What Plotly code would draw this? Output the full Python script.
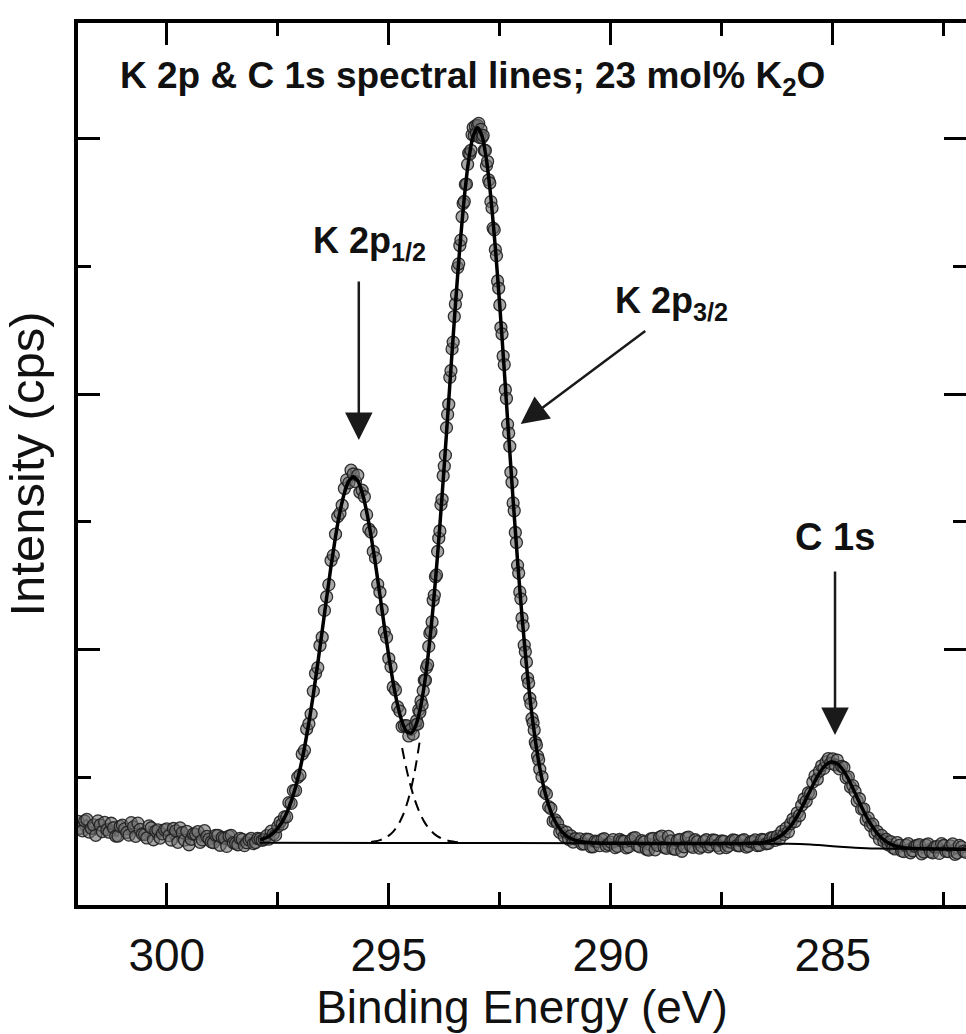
import plotly.graph_objects as go

# ---------------- data: binding energy (eV) / intensity (cps) ----------------
be_a = [302.0, 301.9, 301.8, 301.7, 301.6, 301.5, 301.4, 301.3, 301.2, 301.1,
        301.0, 300.9, 300.8, 300.7, 300.6, 300.5, 300.4, 300.3, 300.2, 300.1,
        300.0, 299.9, 299.8, 299.7, 299.6, 299.5, 299.4, 299.3, 299.2, 299.1,
        299.0, 298.9, 298.8, 298.7, 298.6, 298.5, 298.4, 298.3, 298.2, 298.1,
        298.0, 297.9, 297.8]
cps_a = [655, 581, 670, 601, 546, 627, 647, 570, 605, 540,
         625, 568, 645, 538, 592, 551, 620, 511, 588, 557,
         596, 509, 581, 604, 508, 472, 556, 575, 510, 537,
         494, 546, 468, 524, 540, 488, 472, 514, 488, 521,
         489, 518, 515]
be_a2 = [301.95, 301.85, 301.75, 301.65, 301.55, 301.45, 301.35, 301.25, 301.15, 301.05,
         300.95, 300.85, 300.75, 300.65, 300.55, 300.45, 300.35, 300.25, 300.15, 300.05,
         299.95, 299.85, 299.75, 299.65, 299.55, 299.45, 299.35, 299.25, 299.15, 299.05,
         298.95, 298.85, 298.75, 298.65, 298.55, 298.45, 298.35, 298.25, 298.15, 298.05,
         297.95, 297.85]
cps_a2 = [601, 658, 571, 627, 659, 575, 590, 640, 540, 616,
          596, 547, 612, 641, 556, 525, 605, 579, 524, 589,
          543, 599, 491, 567, 577, 515, 555, 491, 582, 516,
          488, 546, 529, 459, 545, 483, 522, 465, 510, 481,
          521, 507]

be_b = [297.75, 297.70, 297.65, 297.60, 297.55, 297.50, 297.45, 297.40, 297.35, 297.30,
        297.25, 297.20, 297.15, 297.10, 297.05, 297.00, 296.95, 296.90, 296.85, 296.80,
        296.75, 296.70, 296.65, 296.60, 296.55, 296.50, 296.45, 296.40, 296.35, 296.30,
        296.25, 296.20, 296.15, 296.10, 296.05, 296.00, 295.95, 295.90, 295.85, 295.80,
        295.75, 295.70, 295.65, 295.60, 295.55, 295.50, 295.45, 295.40, 295.35, 295.30,
        295.25, 295.20, 295.15, 295.10, 295.05, 295.00, 294.95, 294.90, 294.85, 294.80,
        294.75, 294.70, 294.65, 294.60, 294.55, 294.50, 294.45, 294.40]
cps_b = [543, 516, 578, 555, 547, 614, 650, 634, 690, 691,
         802, 796, 896, 897, 1000, 1018, 1182, 1211, 1378, 1420,
         1495, 1675, 1813, 1859, 2032, 2097, 2307, 2414, 2509, 2698,
         2738, 2904, 3042, 3067, 3131, 3262, 3329, 3306, 3405, 3375,
         3316, 3366, 3232, 3248, 3197, 3057, 2944, 2921, 2769, 2718,
         2511, 2449, 2314, 2139, 2096, 1930, 1866, 1707, 1684, 1551,
         1518, 1398, 1404, 1404, 1324, 1375, 1338, 1411]

be_c = [294.375, 294.350, 294.325, 294.300, 294.275, 294.250, 294.225, 294.200, 294.175, 294.150,
        294.125, 294.100, 294.075, 294.050, 294.025, 294.000, 293.975, 293.950, 293.925, 293.900,
        293.875, 293.850, 293.825, 293.800, 293.775, 293.750, 293.725, 293.700, 293.675, 293.650,
        293.625, 293.600, 293.575, 293.550, 293.525, 293.500, 293.475, 293.450, 293.425, 293.400,
        293.375, 293.350, 293.325, 293.300, 293.275, 293.250, 293.225, 293.200, 293.175, 293.150,
        293.125, 293.100, 293.075, 293.050, 293.025, 293.000, 292.975, 292.950, 292.925, 292.900,
        292.875, 292.850, 292.825, 292.800, 292.775, 292.750, 292.725, 292.700, 292.675, 292.650,
        292.625, 292.600, 292.575, 292.550, 292.525, 292.500, 292.475, 292.450, 292.425, 292.400,
        292.375, 292.350, 292.325, 292.300, 292.275, 292.250, 292.225, 292.200, 292.175, 292.150,
        292.125, 292.100, 292.075, 292.050, 292.025, 292.000, 291.975, 291.950, 291.925, 291.900,
        291.875, 291.850, 291.825, 291.800, 291.775, 291.750, 291.725, 291.700, 291.675, 291.650,
        291.625, 291.600]
cps_c = [1443, 1417, 1528, 1510, 1598, 1567, 1678, 1761, 1760, 1859,
         1882, 2025, 2127, 2143, 2217, 2386, 2427, 2571, 2585, 2769,
         2873, 2929, 3135, 3177, 3362, 3437, 3523, 3738, 3842, 3921,
         4132, 4184, 4355, 4408, 4608, 4707, 4777, 4991, 5021, 5165,
         5207, 5390, 5493, 5509, 5643, 5646, 5800, 5887, 5880, 5910,
         6033, 6088, 6026, 6101, 6043, 6105, 6121, 6010, 6074, 6010,
         6026, 5911, 5909, 5790, 5822, 5678, 5654, 5508, 5459, 5301,
         5287, 5132, 5085, 4887, 4830, 4699, 4522, 4472, 4299, 4232,
         4035, 3967, 3764, 3696, 3593, 3389, 3310, 3149, 3087, 2917,
         2839, 2660, 2600, 2452, 2398, 2247, 2187, 2035, 1983, 1903,
         1777, 1738, 1619, 1577, 1461, 1427, 1370, 1274, 1253, 1166,
         1138, 1063]

be_d = [291.55, 291.50, 291.45, 291.40, 291.35, 291.30, 291.25, 291.20, 291.15, 291.10,
        291.05, 291.00, 290.95, 290.90, 290.85, 290.80,
        290.7, 290.6, 290.5, 290.4, 290.3, 290.2, 290.1, 290.0, 289.9, 289.8,
        289.7, 289.6, 289.5, 289.4, 289.3, 289.2, 289.1, 289.0, 288.9, 288.8,
        288.7, 288.6, 288.5, 288.4, 288.3, 288.2, 288.1, 288.0, 287.9, 287.8,
        287.7, 287.6, 287.5, 287.4, 287.3, 287.2, 287.1, 287.0, 286.9, 286.8,
        286.7, 286.6, 286.5, 286.4, 286.3]
cps_d = [1004, 886, 870, 770, 756, 658, 666, 641, 569, 584,
         538, 570, 515, 542, 493, 519,
         518, 478, 514, 456, 497, 512, 462, 492, 449, 513,
         498, 455, 523, 465, 504, 437, 517, 432, 530, 452,
         537, 441, 506, 421, 526, 461, 511, 446, 499, 456,
         509, 466, 501, 449, 493, 506, 463, 511, 461, 499,
         465, 513, 479, 525, 506]
be_d2 = [290.65, 290.55, 290.45, 290.35, 290.25, 290.15, 290.05,
         289.95, 289.85, 289.75, 289.65, 289.55, 289.45, 289.35, 289.25, 289.15, 289.05,
         288.95, 288.85, 288.75, 288.65, 288.55, 288.45, 288.35, 288.25, 288.15, 288.05,
         287.95, 287.85, 287.75, 287.65, 287.55, 287.45, 287.35, 287.25, 287.15, 287.05,
         286.95, 286.85, 286.75, 286.65, 286.55, 286.45, 286.35]
cps_d2 = [477, 516, 456, 500, 465, 519, 474,
          512, 459, 501, 448, 505, 528, 455, 494, 430, 522,
          467, 540, 444, 502, 436, 513, 456, 531, 451, 496,
          459, 511, 469, 506, 446, 499, 461, 509, 466, 503,
          454, 495, 510, 468, 510, 483, 527]

be_e = [286.25, 286.20, 286.15, 286.10, 286.05, 286.00, 285.95, 285.90, 285.85, 285.80,
        285.75, 285.70, 285.65, 285.60, 285.55, 285.50, 285.45, 285.40, 285.35, 285.30,
        285.25, 285.20, 285.15, 285.10, 285.05, 285.00, 284.95, 284.90, 284.85, 284.80,
        284.75, 284.70, 284.65, 284.60, 284.55, 284.50, 284.45, 284.40, 284.35, 284.30,
        284.25, 284.20, 284.15, 284.10, 284.05, 284.00, 283.95, 283.90, 283.85, 283.80,
        283.75]
cps_e = [540, 516, 576, 553, 601, 573, 637, 673, 654, 722,
         701, 781, 830, 813, 879, 873, 963, 1013, 985, 1049,
         1090, 1070, 1121, 1147, 1109, 1145, 1098, 1135, 1066, 1086,
         1077, 997, 1004, 924, 935, 890, 815, 832, 751, 752,
         666, 682, 622, 633, 563, 576, 514, 545, 498, 515,
         471]

be_f = [283.7, 283.6, 283.5, 283.4, 283.3, 283.2, 283.1, 283.0, 282.9, 282.8,
        282.7, 282.6, 282.5, 282.4, 282.3, 282.2, 282.1, 282.0]
cps_f = [497, 439, 467, 418, 480, 425, 467, 401, 470, 417,
         454, 404, 466, 418, 478, 407, 455, 412]
be_f2 = [283.65, 283.55, 283.45, 283.35, 283.25, 283.15, 283.05, 282.95, 282.85, 282.75,
         282.65, 282.55, 282.45, 282.35, 282.25, 282.15, 282.05]
cps_f2 = [450, 489, 424, 468, 409, 460, 473, 415, 478, 409,
          459, 480, 420, 463, 397, 467, 422]

# envelope fit
be_fit = [297.9, 297.8, 297.7, 297.6, 297.5, 297.4, 297.3, 297.2, 297.1, 297.0,
          296.9, 296.8, 296.7, 296.6, 296.5, 296.4, 296.3, 296.2, 296.1, 296.0,
          295.9, 295.8, 295.7, 295.6, 295.5, 295.4, 295.3, 295.2, 295.1, 295.0,
          294.9, 294.8, 294.7, 294.6, 294.5, 294.4, 294.3, 294.2, 294.1, 294.0,
          293.9, 293.8, 293.7, 293.6, 293.5, 293.4, 293.3, 293.2, 293.1, 293.0,
          292.9, 292.8, 292.7, 292.6, 292.5, 292.4, 292.3, 292.2, 292.1, 292.0,
          291.9, 291.8, 291.7, 291.6, 291.5, 291.4, 291.3, 291.2, 291.1, 291.0,
          290.9, 290.8, 290.7, 290.6, 290.5, 290.4, 290.3, 290.2, 290.1, 290.0,
          289.9, 289.8, 289.7, 289.6, 289.5, 289.4, 289.3, 289.2, 289.1, 289.0,
          288.9, 288.8, 288.7, 288.6, 288.5, 288.4, 288.3, 288.2, 288.1, 288.0,
          287.9, 287.8, 287.7, 287.6, 287.5, 287.4, 287.3, 287.2, 287.1, 287.0,
          286.9, 286.8, 286.7, 286.6, 286.5, 286.4, 286.3, 286.2, 286.1, 286.0,
          285.9, 285.8, 285.7, 285.6, 285.5, 285.4, 285.3, 285.2, 285.1, 285.0,
          284.9, 284.8, 284.7, 284.6, 284.5, 284.4, 284.3, 284.2, 284.1, 284.0,
          283.9, 283.8, 283.7, 283.6, 283.5, 283.4, 283.3, 283.2, 283.1, 283.0,
          282.9, 282.8, 282.7, 282.6, 282.5, 282.4, 282.3, 282.2, 282.1, 282.0]
cps_fit = [509, 521, 538, 565, 602, 652, 721, 810, 923, 1063,
           1231, 1428, 1649, 1892, 2147, 2406, 2656, 2884, 3079, 3227,
           3321, 3353, 3322, 3230, 3082, 2891, 2668, 2427, 2181, 1948,
           1737, 1563, 1433, 1359, 1345, 1399, 1525, 1723, 1997, 2341,
           2747, 3205, 3698, 4204, 4697, 5151, 5539, 5837, 6023, 6087,
           6022, 5835, 5536, 5146, 4689, 4190, 3676, 3171, 2695, 2262,
           1881, 1557, 1290, 1075, 908, 782, 688, 621, 574, 542,
           520, 507, 498, 493, 489, 486, 485, 484, 484, 484,
           484, 483, 483, 483, 483, 483, 482, 482, 482, 482,
           482, 482, 482, 481, 481, 481, 481, 481, 481, 481,
           481, 481, 481, 481, 481, 481, 481, 481, 481, 481,
           483, 484, 485, 488, 494, 503, 516, 536, 563, 598,
           643, 697, 761, 831, 903, 973, 1034, 1082, 1112, 1120,
           1107, 1071, 1019, 952, 878, 802, 730, 664, 608, 561,
           525, 497, 477, 464, 455, 448, 445, 443, 442, 441,
           440, 439, 439, 439, 438, 438, 438, 437, 437, 437]

# fitted components (only the parts below the envelope)
be_k2p12 = [294.7, 294.6, 294.5, 294.4, 294.3, 294.2, 294.1, 294.0, 293.9, 293.8,
            293.7, 293.6, 293.5, 293.4]
cps_k2p12 = [1230, 1062, 922, 809, 720, 651, 601, 564, 537, 519,
             507, 499, 494, 491]
be_k2p32 = [295.4, 295.3, 295.2, 295.1, 295.0, 294.9, 294.8, 294.7, 294.6, 294.5,
            294.4, 294.3]
cps_k2p32 = [494, 499, 508, 521, 543, 575, 622, 689, 783, 909,
             1076, 1291]

# Shirley background
be_bg = [297.9, 295.0, 290.0, 286.5, 286.0, 285.75, 285.5, 285.25, 285.0, 284.75,
         284.5, 284.25, 284.0, 283.5, 283.0, 282.0]
cps_bg = [488, 486, 484, 480, 479, 477, 473, 467, 460, 454,
          448, 444, 442, 441, 440, 437]

x_major = [300, 295, 290, 285]
x_minor = [297.5, 292.5, 287.5, 282.5]
y_major = [2000, 4000, 6000]
y_minor = [1000, 3000, 5000]

pairs = sorted(zip(be_a + be_a2 + be_b + be_c + be_d + be_d2 + be_e + be_f + be_f2,
                   cps_a + cps_a2 + cps_b + cps_c + cps_d + cps_d2 + cps_e + cps_f + cps_f2),
               reverse=True)
be_data = [p[0] for p in pairs]
cps_data = [p[1] for p in pairs]

FONT = "Liberation Sans, Arial, Helvetica, sans-serif"
TXT = "#111111"

fig = go.Figure()
for xs, ys in [(be_k2p12, cps_k2p12), (be_k2p32, cps_k2p32)]:
    fig.add_trace(go.Scatter(x=xs, y=ys, mode="lines",
                             line=dict(color="black", width=2, dash="11px,7px", shape="spline")))
fig.add_trace(go.Scatter(x=be_data, y=cps_data, mode="lines+markers",
                         line=dict(color="rgba(15,15,15,0.9)", width=1.4),
                         marker=dict(size=12, color="rgba(110,110,110,0.6)",
                                     line=dict(color="rgba(30,30,30,0.9)", width=1.3))))
fig.add_trace(go.Scatter(x=be_bg, y=cps_bg, mode="lines",
                         line=dict(color="black", width=2, shape="spline")))
fig.add_trace(go.Scatter(x=be_fit, y=cps_fit, mode="lines",
                         line=dict(color="black", width=3.5, shape="spline", smoothing=0.6)))
fig.add_trace(go.Scatter(x=[None], y=[None], yaxis="y2", mode="lines", hoverinfo="skip"))

yr = [0, 6907]
AX = 46
fig.update_layout(
    width=966, height=1034,
    margin=dict(l=78, r=0, t=23, b=129),
    paper_bgcolor="white", plot_bgcolor="white", showlegend=False,
    xaxis=dict(range=[302, 282], tickmode="array", tickvals=x_major,
               ticktext=[str(v) for v in x_major],
               ticks="inside", ticklen=22, tickwidth=3, tickcolor="black",
               minor=dict(tickmode="array", tickvals=x_minor, ticks="inside",
                          ticklen=13, tickwidth=3, tickcolor="black"),
               showline=True, linewidth=3.5, linecolor="black", mirror="ticks",
               showgrid=False, zeroline=False,
               tickfont=dict(family=FONT, size=AX, color=TXT),
               ticklabelstandoff=7,
               title=dict(text="Binding Energy (eV)", standoff=2,
                          font=dict(family=FONT, size=AX, color=TXT))),
    yaxis=dict(range=yr, tickmode="array", tickvals=y_major,
               ticks="inside", ticklen=22, tickwidth=3, tickcolor="black",
               minor=dict(tickmode="array", tickvals=y_minor, ticks="inside",
                          ticklen=13, tickwidth=3, tickcolor="black"),
               showline=True, linewidth=3.5, linecolor="black", mirror=False,
               showticklabels=False, showgrid=False, zeroline=False,
               title=dict(text="Intensity (cps)", standoff=20,
                          font=dict(family=FONT, size=49, color=TXT))),
    yaxis2=dict(range=yr, overlaying="y", side="right", anchor="x",
                tickmode="array", tickvals=y_major,
                ticks="inside", ticklen=22, tickwidth=3, tickcolor="black",
                minor=dict(tickmode="array", tickvals=y_minor, ticks="inside",
                           ticklen=13, tickwidth=3, tickcolor="black"),
                showline=False, showticklabels=False, showgrid=False, zeroline=False),
)

ann_font = dict(family=FONT, size=36, color=TXT)
annotations = [
    dict(x=0.045, y=0.9376, xref="paper", yref="paper", xanchor="left", yanchor="middle",
         text="<b>K 2p &amp; C 1s spectral lines; 23 mol% K<sub>2</sub>O</b>",
         showarrow=False, font=dict(family=FONT, size=37, color=TXT)),
    dict(x=295.43, y=5184, xref="x", yref="y", xanchor="center", yanchor="middle",
         text="<b>K 2p<sub>1/2</sub></b>", showarrow=False, font=ann_font),
    dict(x=288.63, y=4714, xref="x", yref="y", xanchor="center", yanchor="middle",
         text="<b>K 2p<sub>3/2</sub></b>", showarrow=False, font=ann_font),
    dict(x=284.95, y=2882, xref="x", yref="y", xanchor="center", yanchor="middle",
         text="<b>C 1s</b>", showarrow=False, font=dict(family=FONT, size=38, color=TXT)),
]
arrows = [
    (295.676, 3641, 295.676, 4894),
    (292.03, 3767, 289.19, 4503),
    (284.95, 1331, 284.95, 2623),
]
for tx, ty, sx, sy in arrows:
    annotations.append(dict(x=tx, y=ty, ax=sx, ay=sy, xref="x", yref="y", axref="x", ayref="y",
                            text="", showarrow=True, arrowhead=2, arrowsize=2.2,
                            arrowwidth=2.5, arrowcolor="#1a1a1a"))
fig.update_layout(annotations=annotations)

fig.write_html("out.html")
